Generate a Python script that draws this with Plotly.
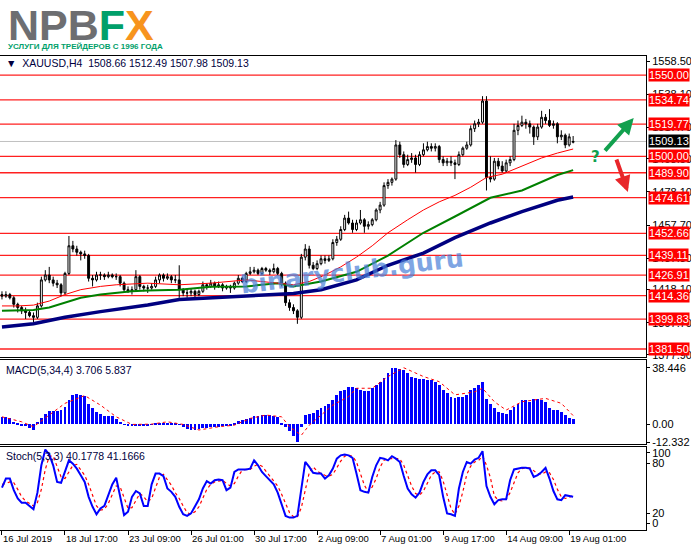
import plotly.graph_objects as go
from plotly.subplots import make_subplots

# XAUUSD H4 candles
opens = [1415, 1414, 1415, 1413, 1409, 1407, 1405, 1404, 1402, 1401, 1408, 1424, 1427, 1424, 1422, 1421,
         1416, 1428, 1445, 1443, 1441, 1440, 1439, 1425, 1424, 1427, 1427, 1426, 1427, 1426, 1426, 1422,
         1418, 1417, 1418, 1426, 1420, 1419, 1419, 1420, 1424, 1427, 1425, 1426, 1424, 1424, 1418, 1416,
         1416, 1417, 1415, 1417, 1421, 1420, 1422, 1420, 1421, 1419, 1420, 1419, 1422, 1425, 1423, 1428,
         1429, 1430, 1428, 1431, 1430, 1429, 1431, 1428, 1422, 1410, 1407, 1405, 1401, 1438, 1443, 1433,
         1431, 1434, 1437, 1436, 1437, 1447, 1449, 1455, 1462, 1459, 1455, 1459, 1461, 1457, 1458, 1461,
         1467, 1470, 1482, 1484, 1486, 1507, 1501, 1495, 1498, 1499, 1495, 1501, 1504, 1506, 1505, 1506,
         1498, 1496, 1497, 1496, 1495, 1501, 1505, 1507, 1517, 1520, 1521, 1534, 1487, 1486, 1497, 1494,
         1491, 1496, 1498, 1516, 1519, 1521, 1520, 1518, 1512, 1518, 1524, 1522, 1519, 1520, 1512, 1513,
         1507, 1508.66]
highs = [1417, 1417, 1416, 1414, 1410, 1408, 1407, 1405, 1404, 1410, 1426, 1430, 1432, 1426, 1424, 1422,
         1429, 1451, 1448, 1445, 1442, 1442, 1440, 1427, 1429, 1429, 1428, 1429, 1428, 1428, 1427, 1423,
         1420, 1420, 1430, 1427, 1421, 1421, 1422, 1426, 1428, 1428, 1428, 1427, 1427, 1433, 1419, 1418,
         1419, 1418, 1418, 1423, 1422, 1424, 1423, 1423, 1422, 1421, 1421, 1423, 1427, 1426, 1429, 1432,
         1432, 1431, 1432, 1432, 1431, 1434, 1432, 1429, 1423, 1412, 1409, 1406, 1440, 1446, 1445, 1435,
         1436, 1439, 1439, 1439, 1449, 1451, 1457, 1464, 1466, 1461, 1461, 1467, 1462, 1460, 1462, 1468,
         1472, 1484, 1486, 1487, 1510, 1509, 1503, 1501, 1502, 1501, 1503, 1508, 1509, 1508, 1508, 1507,
         1500, 1499, 1500, 1498, 1503, 1506, 1509, 1519, 1522, 1523, 1537, 1537, 1500, 1499, 1499, 1497,
         1498, 1500, 1520, 1522, 1525, 1523, 1522, 1519, 1520, 1528, 1526, 1529, 1522, 1521, 1516, 1514,
         1514, 1512.49]
lows = [1412, 1413, 1412, 1407, 1404, 1403, 1400, 1401, 1398, 1400, 1407, 1423, 1422, 1420, 1419, 1414,
        1415, 1427, 1441, 1439, 1436, 1437, 1423, 1420, 1423, 1424, 1424, 1425, 1425, 1424, 1420, 1416,
        1416, 1415, 1417, 1418, 1417, 1416, 1418, 1419, 1422, 1423, 1424, 1422, 1422, 1413, 1414, 1413,
        1414, 1412, 1414, 1416, 1418, 1419, 1418, 1419, 1417, 1418, 1416, 1418, 1421, 1422, 1422, 1427,
        1428, 1427, 1427, 1429, 1427, 1428, 1427, 1420, 1408, 1405, 1403, 1397, 1400, 1436, 1431, 1430,
        1430, 1433, 1434, 1435, 1436, 1445, 1448, 1454, 1458, 1453, 1454, 1458, 1453, 1455, 1457, 1460,
        1465, 1469, 1480, 1482, 1485, 1499, 1493, 1494, 1496, 1490, 1494, 1500, 1503, 1503, 1503, 1496,
        1494, 1494, 1494, 1486, 1494, 1500, 1504, 1506, 1515, 1518, 1520, 1479, 1484, 1485, 1492, 1490,
        1490, 1494, 1497, 1513, 1518, 1517, 1514, 1507, 1510, 1517, 1520, 1518, 1517, 1508, 1510, 1505,
        1506, 1507.98]
closes = [1414, 1415, 1413, 1409, 1407, 1405, 1404, 1402, 1401, 1408, 1424, 1427, 1424, 1422, 1421, 1416,
          1428, 1445, 1443, 1441, 1440, 1439, 1425, 1424, 1427, 1427, 1426, 1427, 1426, 1426, 1422, 1418,
          1417, 1418, 1426, 1420, 1419, 1419, 1420, 1424, 1427, 1425, 1426, 1424, 1424, 1418, 1416, 1416,
          1417, 1415, 1417, 1421, 1420, 1422, 1420, 1421, 1419, 1420, 1419, 1422, 1425, 1423, 1428, 1429,
          1430, 1428, 1431, 1430, 1429, 1431, 1428, 1422, 1410, 1407, 1405, 1401, 1438, 1443, 1433, 1431,
          1434, 1437, 1436, 1437, 1447, 1449, 1455, 1462, 1459, 1455, 1459, 1461, 1457, 1458, 1461, 1467,
          1470, 1482, 1484, 1486, 1507, 1501, 1495, 1498, 1499, 1495, 1501, 1504, 1506, 1505, 1506, 1498,
          1496, 1497, 1496, 1495, 1501, 1505, 1507, 1517, 1520, 1521, 1534, 1487, 1486, 1497, 1494, 1491,
          1496, 1498, 1516, 1519, 1521, 1520, 1518, 1512, 1518, 1524, 1522, 1519, 1520, 1512, 1513, 1507,
          1512, 1509.13]
bars = list(range(len(closes)))

# moving averages (sampled along the chart)
red_ma_idx = [0, 4, 8, 12, 16, 20, 25, 29, 37, 45, 53, 62, 70, 74, 78, 82, 86, 90, 94, 98, 103, 107,
              111, 115, 119, 123, 127, 132, 137, 141, 145]
red_ma = [1408, 1408, 1408.5, 1411, 1415, 1418, 1420, 1421, 1422, 1421, 1422, 1424, 1422, 1421, 1423,
          1427, 1432, 1438, 1445, 1453, 1461, 1467, 1472, 1476, 1481, 1487, 1489, 1494, 1499, 1502, 1504.5]
green_ma_idx = [0, 8, 12, 16, 20, 25, 33, 37, 45, 53, 62, 70, 74, 81, 90, 98, 107, 115, 124, 132, 141, 145]
green_ma = [1405, 1405.5, 1407, 1410, 1413, 1415, 1417, 1417.5, 1418, 1419.8, 1420, 1422, 1420, 1423,
            1429, 1439, 1453, 1463, 1474.5, 1479, 1488.5, 1491.5]
navy_ma_idx = [0, 8, 12, 16, 25, 33, 37, 45, 53, 62, 70, 74, 81, 90, 98, 107, 115, 124, 132, 141, 145]
navy_ma = [1395, 1397, 1399, 1401, 1404.5, 1407, 1408.6, 1412, 1413, 1414, 1415, 1415.6, 1418, 1424,
           1433, 1440.5, 1450, 1459, 1466, 1473, 1475]

levels = [1550.00, 1534.74, 1519.77, 1500.00, 1489.90, 1474.61, 1452.66, 1439.11, 1426.91, 1414.36,
          1399.83, 1381.50]
last_price = 1509.13
price_ticks = [1558.50, 1538.10, 1517.70, 1498.50, 1478.10, 1457.70, 1437.30, 1418.10, 1397.70, 1377.90]

# MACD(5,34,4)
macd_hist = [5.0, 5.0, 4.5, 1.6, 0.8, -0.7, -1.2, -2.5, -3.9, 1.8, 4.0, 7.3, 9.0, 9.2, 9.2, 9.6,
             11.9, 16.5, 19.9, 20.4, 19.9, 19.5, 14.2, 10.8, 8.5, 7.3, 5.7, 5.7, 5.5, 3.9, 1.6, -0.2,
             -0.7, -1.0, -1.1, -1.2, -1.0, -0.8, 0.2, 1.0, 1.2, 1.2, 1.0, 0.9, 0.6, -0.2, -1.8, -3.0,
             -3.8, -3.8, -3.2, -2.5, -2.2, -2.0, -1.8, -1.6, -1.4, -1.2, -0.9, 0.5, 2.2, 3.0, 3.5, 4.6,
             5.5, 5.8, 6.2, 6.4, 6.4, 6.0, 5.2, 1.0, -1.8, -4.5, -8.0, -12.332, -1.8, 6.2, 7.3, 8.0,
             9.6, 11.2, 12.6, 14.2, 16.5, 19.9, 22.7, 23.4, 25.2, 25.2, 24.5, 23.4, 22.7, 23.0, 25.0, 26.8,
             29.1, 31.4, 35.0, 38.2, 38.446, 38.0, 37.0, 34.8, 32.5, 31.4, 31.2, 31.0, 30.2, 30.0, 29.1, 26.8,
             23.4, 21.1, 18.8, 18.3, 18.5, 18.5, 19.9, 23.4, 24.5, 27.0, 29.1, 17.6, 14.2, 10.8, 8.5, 7.8,
             7.3, 9.6, 11.9, 14.2, 16.5, 16.5, 15.3, 17.6, 17.6, 16.5, 15.3, 11.2, 10.0, 9.6, 8.5, 6.6,
             4.6, 3.706]
macd_sig_idx = [0, 5, 8, 12, 16, 21, 25, 29, 33, 38, 42, 46, 50, 55, 59, 63, 67, 71, 73, 76, 78, 84, 88,
                90, 94, 98, 102, 107, 111, 115, 120, 122, 125, 128, 132, 138, 142, 145]
macd_sig = [5, 1.6, -1.8, 6.2, 14.2, 19.5, 13, 5, -0.2, 0, 1.6, -0.2, -4, -1.8, -0.7, 3.9, 6.2, 5, -1.8,
            -7.6, -0.7, 13, 18.8, 24.5, 24.5, 32.5, 38.5, 32.5, 29, 20, 22, 24.5, 15.3, 9.6, 15.3, 17.6,
            14.2, 5.837]

# Stochastic(5,3,3)
stoch_k = [51, 62, 62, 48, 38, 33, 33, 29, 25, 45, 78, 97, 91, 78, 58, 57, 70, 84, 80, 74, 66, 58, 40,
           28, 19, 26, 29, 42, 55, 63, 39, 18, 22, 40, 47, 44, 29, 29, 55, 68, 68, 65, 50, 46, 40, 28,
           19, 17, 20, 28, 37, 50, 59, 56, 60, 61, 60, 48, 51, 70, 73, 73, 73, 74, 84, 78, 70, 65, 60,
           55, 45, 30, 17, 15, 15, 17, 50, 82, 76, 69, 68, 68, 62, 66, 74, 86, 90, 91, 90, 87, 68, 48,
           46, 45, 64, 78, 87, 86, 84, 89, 86, 82, 65, 50, 43, 39, 45, 58, 67, 72, 72, 66, 40, 20, 19,
           17, 50, 70, 82, 80, 85, 87, 95, 53, 40, 31, 36, 37, 37, 60, 73, 74, 75, 75, 74, 64, 66, 70,
           75, 62, 47, 37, 36, 42, 41, 40.1778]
stoch_d = [55, 56, 58, 57, 49, 40, 35, 32, 29, 33, 49, 73, 89, 89, 76, 64, 62, 70, 78, 79, 73, 66, 55,
           42, 29, 24, 25, 32, 42, 53, 52, 40, 26, 27, 36, 44, 40, 34, 38, 51, 64, 67, 61, 54, 45, 38,
           29, 21, 19, 22, 28, 38, 49, 55, 58, 59, 60, 56, 53, 56, 65, 72, 73, 73, 77, 79, 77, 71, 65,
           60, 53, 43, 31, 21, 16, 16, 27, 50, 69, 76, 71, 68, 66, 65, 67, 75, 83, 89, 90, 89, 82, 68,
           54, 46, 52, 62, 76, 84, 86, 86, 86, 86, 78, 66, 53, 44, 42, 47, 57, 66, 70, 70, 59, 42, 26,
           19, 29, 46, 67, 77, 82, 84, 89, 78, 63, 41, 36, 35, 37, 45, 57, 69, 74, 75, 75, 71, 68, 67,
           70, 69, 61, 49, 40, 38, 40, 41.1666]

tick_bars = [0, 16, 32, 48, 64, 80, 96, 112, 128, 144]
tick_labels = ['16 Jul 2019', '18 Jul 17:00', '23 Jul 09:00', '26 Jul 01:00', '30 Jul 17:00',
               '2 Aug 09:00', '7 Aug 01:00', '9 Aug 17:00', '14 Aug 09:00', '19 Aug 01:00']

FONT = 'Liberation Sans'

fig = make_subplots(rows=3, cols=1, shared_xaxes=True, vertical_spacing=0.005)

# price panel
fig.add_trace(go.Candlestick(x=bars, open=opens, high=highs, low=lows, close=closes,
                             increasing=dict(fillcolor='white', line=dict(color='black', width=1)),
                             decreasing=dict(fillcolor='black', line=dict(color='black', width=1)),
                             whiskerwidth=0), row=1, col=1)
fig.add_trace(go.Scatter(x=navy_ma_idx, y=navy_ma, mode='lines', line=dict(color='#000080', width=3.5)),
              row=1, col=1)
fig.add_trace(go.Scatter(x=green_ma_idx, y=green_ma, mode='lines', line=dict(color='#008000', width=2)),
              row=1, col=1)
fig.add_trace(go.Scatter(x=red_ma_idx, y=red_ma, mode='lines', line=dict(color='#ff0000', width=1)),
              row=1, col=1)

for lvl in levels:
    fig.add_hline(y=lvl, row=1, col=1, line=dict(color='#ff2020', width=1.3), layer='below')
    fig.add_annotation(x=1, xref='paper', y=lvl, yref='y', text=f'{lvl:.2f}', showarrow=False,
                       xanchor='left', xshift=2, bgcolor='#ff0000', borderpad=0,
                       font=dict(color='white', size=11, family=FONT))
fig.add_hline(y=last_price, row=1, col=1, line=dict(color='#c0c0c0', width=1), layer='below')
fig.add_annotation(x=1, xref='paper', y=last_price, yref='y', text=f'{last_price:.2f}', showarrow=False,
                   xanchor='left', xshift=2, bgcolor='black', borderpad=0,
                   font=dict(color='white', size=11, family=FONT))

# MACD panel
fig.add_trace(go.Bar(x=bars, y=macd_hist, marker=dict(color='#0000ff', line=dict(width=0)), width=0.72),
              row=2, col=1)
fig.add_trace(go.Scatter(x=macd_sig_idx, y=macd_sig, mode='lines',
                         line=dict(color='#ff0000', width=1, dash='dot')), row=2, col=1)

# Stochastic panel
fig.add_hline(y=80, row=3, col=1, line=dict(color='#ff0000', width=1.3, dash='18px,9px'))
fig.add_hline(y=20, row=3, col=1, line=dict(color='#ff0000', width=1.3, dash='18px,9px'))
fig.add_trace(go.Scatter(x=bars, y=stoch_d, mode='lines', line=dict(color='#ff0000', width=1.2, dash='dot')),
              row=3, col=1)
fig.add_trace(go.Scatter(x=bars, y=stoch_k, mode='lines', line=dict(color='#0000ff', width=2)),
              row=3, col=1)

axis_style = dict(showline=True, linecolor='black', linewidth=1, mirror=True, showgrid=False,
                  zeroline=False, automargin=False)
for i in (1, 2, 3):
    fig.update_xaxes(axis_style, range=[-0.5, 163.5], row=i, col=1)
    fig.update_yaxes(axis_style, side='right', ticks='outside', ticklen=3, tickcolor='black',
                     tickfont=dict(size=11, family=FONT, color='black'), row=i, col=1)
fig.update_xaxes(showticklabels=False, rangeslider_visible=False, row=1, col=1)
fig.update_xaxes(showticklabels=False, row=2, col=1)
fig.update_xaxes(tickvals=tick_bars, ticktext=tick_labels, ticks='outside', ticklen=4, tickangle=0,
                 tickcolor='black', ticklabelposition='outside right',
                 tickfont=dict(size=9.5, family=FONT, color='black'), row=3, col=1)

fig.update_yaxes(range=[1376.6, 1561.7], tickvals=price_ticks,
                 ticktext=[f'{v:.2f}' for v in price_ticks], row=1, col=1)
fig.update_yaxes(range=[-13.7, 43.9], tickvals=[38.446, 0, -12.332],
                 ticktext=['38.446', '0.00', '-12.332'], row=2, col=1)
fig.update_yaxes(range=[0, 100], tickvals=[93, 80, 20, 7.7], ticktext=['100', '80', '20', '0'],
                 row=3, col=1)

fig.update_layout(
    width=691, height=549,
    margin=dict(l=0, r=45, t=56, b=19, autoexpand=False),
    paper_bgcolor='white', plot_bgcolor='white',
    showlegend=False, hovermode=False, bargap=0,
    yaxis=dict(domain=[0.365, 1]),
    yaxis2=dict(domain=[0.181, 0.359]),
    yaxis3=dict(domain=[0, 0.175]),
)

# logo and captions
fig.add_annotation(x=0.01, y=1.075, xref='paper', yref='paper', xanchor='left', yanchor='middle',
                   yshift=-5, showarrow=False,
                   text="<b><span style='color:#6d6e71'>NPB</span><span style='color:#00a06a'>F</span>"
                        "<span style='color:#f7941d'>X</span></b>",
                   font=dict(size=43, family='Liberation Sans'))
fig.add_annotation(x=0.01, y=1.0, xref='paper', yref='paper', xanchor='left', yanchor='bottom',
                   yshift=3, showarrow=False, text='<b>УСЛУГИ ДЛЯ ТРЕЙДЕРОВ С 1996 ГОДА</b>',
                   font=dict(size=8, family='Liberation Sans', color='#00a06a'))
fig.add_annotation(x=0.006, y=0.985, xref='paper', yref='paper', xanchor='left', yanchor='middle',
                   showarrow=False, text='▼  XAUUSD,H4  1508.66 1512.49 1507.98 1509.13',
                   font=dict(size=10.5, family=FONT, color='#000040'))
fig.add_annotation(x=0.006, y=0.337, xref='paper', yref='paper', xanchor='left', yanchor='middle',
                   showarrow=False, text='MACD(5,34,4) 3.706 5.837',
                   font=dict(size=10.5, family=FONT, color='#000040'))
fig.add_annotation(x=0.006, y=0.156, xref='paper', yref='paper', xanchor='left', yanchor='middle',
                   showarrow=False, text='Stoch(5,3,3) 40.1778 41.1666',
                   font=dict(size=10.5, family=FONT, color='#000040'))
fig.add_annotation(x=0.545, y=0.545, xref='paper', yref='paper', showarrow=False, textangle=-7,
                   text='<b>binaryclub.guru</b>', opacity=0.7,
                   font=dict(size=25, family='DejaVu Sans', color='#4a7fd8'))

# forecast arrows
fig.add_annotation(x=0.981, y=0.869, xref='paper', yref='paper', ax=-30, ay=34, showarrow=True,
                   arrowhead=2, arrowsize=0.8, arrowwidth=4, arrowcolor='#12a04e', text='')
fig.add_annotation(x=0.972, y=0.713, xref='paper', yref='paper', ax=-12, ay=-34, showarrow=True,
                   arrowhead=2, arrowsize=0.8, arrowwidth=4, arrowcolor='#e8262a', text='')
fig.add_annotation(x=0.932, y=0.81, xref='paper', yref='paper', showarrow=False, text='<b>?</b>',
                   font=dict(size=15, family='DejaVu Sans', color='#12a04e'))

fig.write_html("out.html", config={'displayModeBar': False},
               post_script="document.body.style.margin='0px';")
